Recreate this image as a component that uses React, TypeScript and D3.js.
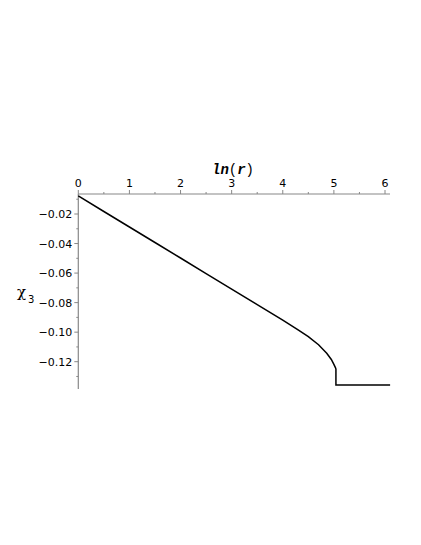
import React from "react";
import * as d3 from "d3";

const lnR = [0, 0.5, 1, 1.5, 2, 2.5, 3, 3.5, 4, 4.3, 4.5, 4.7, 4.86, 4.95, 5.0, 5.03, 5.04, 5.04, 6.1];
const chi3 = [-0.0078, -0.0183, -0.0288, -0.0393, -0.0498, -0.0603, -0.0708, -0.0813, -0.0918, -0.0985, -0.1030, -0.1085, -0.1143, -0.1185, -0.1218, -0.1240, -0.1250, -0.1358, -0.1358];
const xTicks = [0, 1, 2, 3, 4, 5, 6];
const xMinor = [0.5, 1.5, 2.5, 3.5, 4.5, 5.5];
const yTicks = [-0.02, -0.04, -0.06, -0.08, -0.1, -0.12];
const yMinor = [-0.01, -0.03, -0.05, -0.07, -0.09, -0.11, -0.13];

export default function App() {
  const W = 421, H = 545;
  const x = d3.scaleLinear().domain([0, 6]).range([78.3, 385]);
  const y = d3.scaleLinear().domain([-0.02, -0.12]).range([214, 361.7]);
  const x0 = x(0), yTop = 194, yBot = 389, xEnd = 390;
  const line = d3.line<number>().x((_, i) => x(lnR[i])).y((d) => y(d));
  const axisColor = "#888";
  const font = "DejaVu Sans, sans-serif";
  return (
    <svg width={W} height={H} style={{ position: "absolute", left: 0, top: 0 }}>
      <rect width={W} height={H} fill="#fff" />
      <line x1={x0} x2={xEnd} y1={yTop} y2={yTop} stroke={axisColor} strokeWidth={1.2} />
      <line x1={x0} x2={x0} y1={yTop} y2={yBot} stroke={axisColor} strokeWidth={1.2} />
      {xTicks.map((t) => (
        <g key={"xt" + t}>
          <line x1={x(t)} x2={x(t)} y1={yTop} y2={yTop - 4} stroke={axisColor} />
          <text x={x(t)} y={yTop - 7} textAnchor="middle" fontSize={11} fontFamily={font}>{t}</text>
        </g>
      ))}
      {xMinor.map((t) => (
        <line key={"xm" + t} x1={x(t)} x2={x(t)} y1={yTop} y2={yTop - 2} stroke={axisColor} />
      ))}
      {yTicks.map((t) => (
        <g key={"yt" + t}>
          <line x1={x0} x2={x0 - 4} y1={y(t)} y2={y(t)} stroke={axisColor} />
          <text x={x0 - 6} y={y(t) + 4} textAnchor="end" fontSize={11} fontFamily={font}>
            {"\u2212" + Math.abs(t).toFixed(2).replace(/^0/, "0")}
          </text>
        </g>
      ))}
      {yMinor.map((t) => (
        <line key={"ym" + t} x1={x0} x2={x0 - 2} y1={y(t)} y2={y(t)} stroke={axisColor} />
      ))}
      <path d={line(chi3) || ""} fill="none" stroke="#000" strokeWidth={1.5} />
      <text x={233} y={174} textAnchor="middle" fontSize={14} fontFamily="Liberation Mono, monospace">
        <tspan fontWeight="bold" fontStyle="italic">ln</tspan>
        <tspan>(</tspan>
        <tspan fontWeight="bold" fontStyle="italic">r</tspan>
        <tspan>)</tspan>
      </text>
      <text x={17} y={297} fontSize={15} fontFamily="DejaVu Serif, serif">χ</text>
      <text x={28} y={303} fontSize={10} fontFamily={font}>3</text>
    </svg>
  );
}
